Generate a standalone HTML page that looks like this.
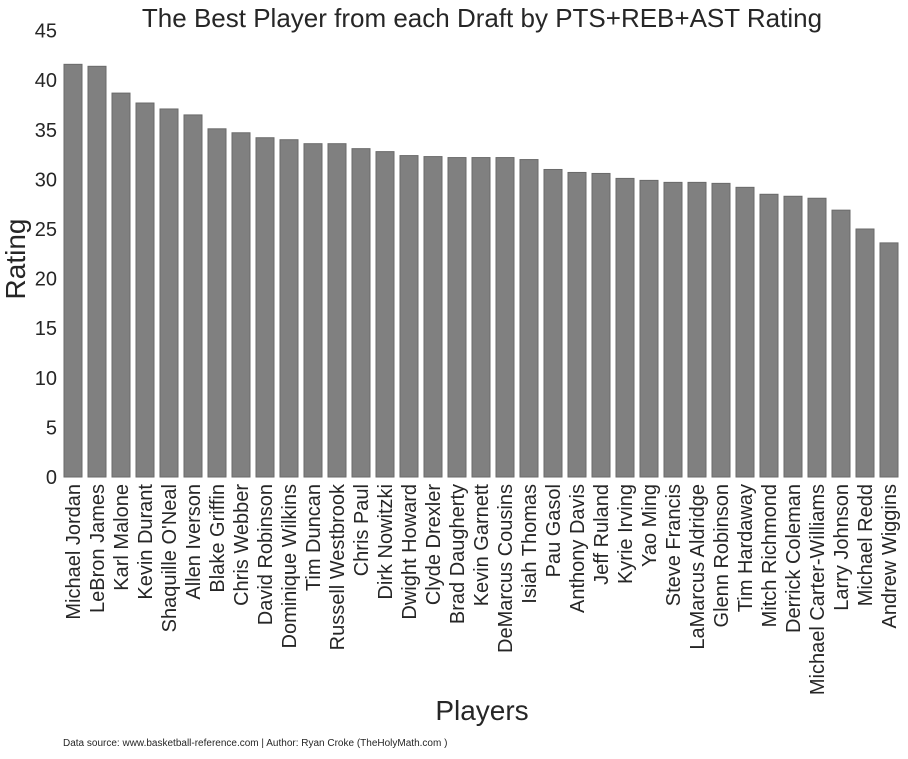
<!DOCTYPE html>
<html><head><meta charset="utf-8"><style>
body{margin:0;background:#fff;font-family:"Liberation Sans",sans-serif;}
svg text{font-family:"Liberation Sans",sans-serif;fill:#262626;}
</style></head><body>
<svg id="chart" width="908" height="754">
<text x="482" y="27" font-size="26" text-anchor="middle">The Best Player from each Draft by PTS+REB+AST Rating</text>
<g id="bars"></g>
<g id="yticks"></g>
<g id="xticks"></g>
<text transform="translate(25,259) rotate(-90)" font-size="28" text-anchor="middle">Rating</text>
<text x="482" y="720" font-size="28" text-anchor="middle">Players</text>
<text x="63" y="746" font-size="10">Data source: www.basketball-reference.com | Author: Ryan Croke (TheHolyMath.com )</text>
</svg>
<script>
const players=["Michael Jordan","LeBron James","Karl Malone","Kevin Durant","Shaquille O'Neal","Allen Iverson","Blake Griffin","Chris Webber","David Robinson","Dominique Wilkins","Tim Duncan","Russell Westbrook","Chris Paul","Dirk Nowitzki","Dwight Howard","Clyde Drexler","Brad Daugherty","Kevin Garnett","DeMarcus Cousins","Isiah Thomas","Pau Gasol","Anthony Davis","Jeff Ruland","Kyrie Irving","Yao Ming","Steve Francis","LaMarcus Aldridge","Glenn Robinson","Tim Hardaway","Mitch Richmond","Derrick Coleman","Michael Carter-Williams","Larry Johnson","Michael Redd","Andrew Wiggins"];
const ratings=[41.6,41.4,38.7,37.7,37.1,36.5,35.1,34.7,34.2,34.0,33.6,33.6,33.1,32.8,32.4,32.3,32.2,32.2,32.2,32.0,31.0,30.7,30.6,30.1,29.9,29.7,29.7,29.6,29.2,28.5,28.3,28.1,26.9,25.0,23.6];
const yTicks=[0,5,10,15,20,25,30,35,40,45];
const NS="http://www.w3.org/2000/svg";
const y0=477,pxPer=9.92,left=61,band=24,bw=18;
const y=v=>y0-v*pxPer;
const x=i=>left+band*i;
const bars=document.getElementById('bars'),xt=document.getElementById('xticks'),yt=document.getElementById('yticks');
players.forEach((p,i)=>{
  const r=document.createElementNS(NS,'rect');
  r.setAttribute('x',x(i)+3);r.setAttribute('width',bw);
  r.setAttribute('y',y(ratings[i]));r.setAttribute('height',y0-y(ratings[i]));
  r.setAttribute('fill','#808080');r.setAttribute('stroke','#6a6a6a');r.setAttribute('stroke-width','1');
  
  
  bars.appendChild(r);
  const t=document.createElementNS(NS,'text');
  const cx=x(i)+3+bw/2+7;
  t.setAttribute('transform','translate('+cx+',484) rotate(-90)');
  t.setAttribute('font-size','20');t.setAttribute('text-anchor','end');
  t.textContent=p;
  
  
  xt.appendChild(t);
});
yTicks.forEach(v=>{
  const t=document.createElementNS(NS,'text');
  t.setAttribute('x',57);t.setAttribute('y',y(v)+7);
  t.setAttribute('font-size','20');t.setAttribute('text-anchor','end');
  t.textContent=v;
  
  
  yt.appendChild(t);
});
</script>
</body></html>
